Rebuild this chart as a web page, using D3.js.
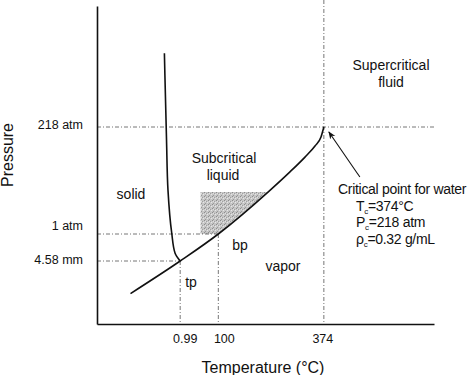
<!DOCTYPE html>
<html>
<head>
<meta charset="utf-8">
<script src="https://cdn.jsdelivr.net/npm/d3@7"></script>
<style>
  body { margin: 0; background: #fff; }
  svg { display: block; font-family: "Liberation Sans", Arial, sans-serif; }
</style>
</head>
<body>
<svg id="chart"></svg>
<script>
// Phase diagram of water (schematic) - temperature in degC, pressure in atm
const vaporCurve = [[-128, 0.0029], [0.99, 0.006], [100, 1], [229, 86], [286, 127], [325, 157], [351, 179.5], [366.6, 197.7], [374, 218]];
const meltCurve = [[-40, 329], [-34.5, 192], [-30.7, 90], [-21, 3], [-12.5, 0.3], [0.99, 0.006]];
const tempTicks = [0.99, 100, 374];
const tempTickLabels = ["0.99", "100", "374"];
const presTicks = [0.006, 1, 218];
const presTickLabels = ["4.58 mm", "1 atm", "218 atm"];
const shadeCorner = [54, 86];   // left temperature, top pressure of the shaded zone
const criticalPoint = [374, 218];

// Set dimensions
const width = 474, height = 375;

const svg = d3.select("#chart")
    .attr("width", width)
    .attr("height", height);

// Scales (pressure axis is not linear, it is a sketch)
const x = d3.scaleLinear()
    .domain([-215, 660])
    .range([97, 434]);

const y = d3.scaleLinear()
    .domain([0, 0.006, 1, 218, 400])
    .range([324, 261, 234, 127, 6]);

// Stipple pattern for the shaded area
const defs = svg.append("defs");
const pat = defs.append("pattern")
    .attr("id", "stipple")
    .attr("width", 4).attr("height", 4)
    .attr("patternUnits", "userSpaceOnUse");
pat.append("rect").attr("width", 4).attr("height", 4).attr("fill", "#c6c6c6");
pat.append("rect").attr("x", 0).attr("y", 0).attr("width", 1).attr("height", 1).attr("fill", "#8e8e8e");
pat.append("rect").attr("x", 2).attr("y", 1).attr("width", 1).attr("height", 1).attr("fill", "#a0a0a0");
pat.append("rect").attr("x", 1).attr("y", 3).attr("width", 1).attr("height", 1).attr("fill", "#999");
pat.append("rect").attr("x", 3).attr("y", 2).attr("width", 1).attr("height", 1).attr("fill", "#e6e6e6");
pat.append("rect").attr("x", 1).attr("y", 1).attr("width", 1).attr("height", 1).attr("fill", "#e0e0e0");

defs.append("marker")
    .attr("id", "arrow")
    .attr("viewBox", "0 0 10 10")
    .attr("refX", 9).attr("refY", 5)
    .attr("markerWidth", 7).attr("markerHeight", 7)
    .attr("orient", "auto")
    .append("path")
    .attr("d", "M0,1L10,5L0,9L3,5Z")
    .attr("fill", "#111");

// Shaded subcritical zone: box from shadeCorner down to 1 atm, cut by the vapor curve
const shadeCurve = vaporCurve.filter(d => d[1] >= 1 && d[1] <= shadeCorner[1]);
const shadePts = [[shadeCorner[0], shadeCorner[1]]]
    .concat(shadeCurve.slice().reverse())
    .concat([[shadeCorner[0], 1]]);
svg.append("path")
    .attr("d", d3.line().x(d => x(d[0])).y(d => y(d[1]))(shadePts) + "Z")
    .attr("fill", "url(#stipple)");

// Guide lines
const guide = (x1, y1, x2, y2) => svg.append("line")
    .attr("x1", x1).attr("y1", y1).attr("x2", x2).attr("y2", y2)
    .attr("stroke", "#666")
    .attr("stroke-width", 0.9)
    .attr("stroke-dasharray", "4,2,1,2");

guide(x.range()[0], y(218), x.range()[1] + 2, y(218));
guide(x.range()[0], y(1), x(100), y(1));
guide(x.range()[0], y(0.006), x(0.99), y(0.006));
guide(x(374), 0, x(374), y.range()[0]);
guide(x(100), y(1), x(100), y.range()[0]);
guide(x(0.99), y(0.006), x(0.99), y.range()[0]);

// Axes (no tick marks, just the lines)
svg.append("g")
    .attr("transform", `translate(0,${y.range()[0]})`)
    .call(d3.axisBottom(x).tickValues([]).tickSizeOuter(0))
    .select(".domain").attr("stroke", "#111").attr("stroke-width", 1.6);

svg.append("g")
    .attr("transform", `translate(${x.range()[0]},0)`)
    .call(d3.axisLeft(y).tickValues([]).tickSizeOuter(0))
    .select(".domain").attr("stroke", "#111").attr("stroke-width", 1.6);

// Curves
svg.append("path")
    .datum(vaporCurve)
    .attr("fill", "none")
    .attr("stroke", "#111")
    .attr("stroke-width", 1.6)
    .attr("d", d3.line().x(d => x(d[0])).y(d => y(d[1])).curve(d3.curveMonotoneX));

svg.append("path")
    .datum(meltCurve)
    .attr("fill", "none")
    .attr("stroke", "#111")
    .attr("stroke-width", 1.6)
    .attr("d", d3.line().x(d => x(d[0])).y(d => y(d[1])).curve(d3.curveMonotoneY));

// Tick labels
const xLabelShift = [5, 6, -1];
svg.selectAll(".xlab")
    .data(tempTicks)
    .enter().append("text")
    .attr("class", "xlab")
    .attr("x", (d, i) => x(d) + xLabelShift[i])
    .attr("y", 343)
    .attr("text-anchor", "middle")
    .style("font-size", "12.5px")
    .attr("fill", "#111")
    .text((d, i) => tempTickLabels[i]);

const yLabelShift = [3, -4, 2];
svg.selectAll(".ylab")
    .data(presTicks)
    .enter().append("text")
    .attr("class", "ylab")
    .attr("x", 83)
    .attr("y", (d, i) => y(d) + yLabelShift[i])
    .attr("text-anchor", "end")
    .style("font-size", "12.5px")
    .attr("fill", "#111")
    .text((d, i) => presTickLabels[i]);

// Axis titles
svg.append("text")
    .attr("x", 263)
    .attr("y", 373)
    .attr("text-anchor", "middle")
    .style("font-size", "16px")
    .attr("fill", "#111")
    .text("Temperature (°C)");

svg.append("text")
    .attr("transform", "rotate(-90)")
    .attr("x", -155)
    .attr("y", 13)
    .attr("text-anchor", "middle")
    .style("font-size", "16px")
    .attr("fill", "#111")
    .text("Pressure");

// Region labels
const label = (txt, cx, cy, size) => svg.append("text")
    .attr("x", cx).attr("y", cy)
    .attr("text-anchor", "middle")
    .attr("dy", "0.35em")
    .style("font-size", (size || 14) + "px")
    .attr("fill", "#111")
    .text(txt);

label("Supercritical", 391, 65);
label("fluid", 391, 82);
label("Subcritical", 224, 158);
label("liquid", 223, 175);
label("solid", 131, 194);
label("bp", 240, 245);
label("vapor", 283, 266);
label("tp", 191, 282);

// Critical point note
svg.append("text")
    .attr("x", 338).attr("y", 189)
    .attr("dy", "0.35em")
    .style("font-size", "14px")
    .style("letter-spacing", "-0.3px")
    .attr("fill", "#111")
    .text("Critical point for water");

const noteLines = [["T", "=374°C"], ["P", "=218 atm"], ["ρ", "=0.32 g/mL"]];
noteLines.forEach((l, i) => {
    const t = svg.append("text")
        .attr("x", 356).attr("y", 206 + i * 16.5)
        .attr("dy", "0.35em")
        .style("font-size", "14px")
        .style("letter-spacing", "-0.3px")
        .attr("fill", "#111");
    t.append("tspan").text(l[0]);
    t.append("tspan").attr("dy", 3).style("font-size", "8px").text("c");
    t.append("tspan").attr("dy", -3).text(l[1]);
});

// Arrow to the critical point
const cx = x(criticalPoint[0]), cy = y(criticalPoint[1]);
svg.append("line")
    .attr("x1", cx + 36).attr("y1", cy + 50)
    .attr("x2", cx + 5).attr("y2", cy + 5)
    .attr("stroke", "#111")
    .attr("stroke-width", 1.1)
    .attr("marker-end", "url(#arrow)");
</script>
</body>
</html>
